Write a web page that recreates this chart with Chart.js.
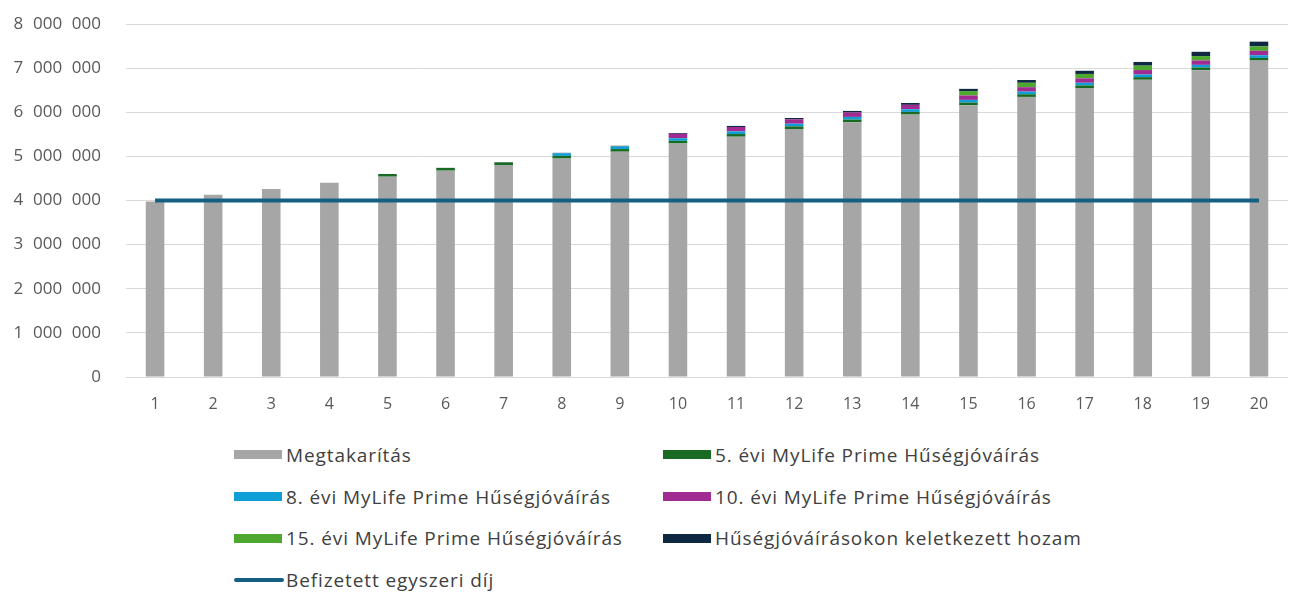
<!DOCTYPE html>
<html>
<head>
<meta charset="utf-8">
<script src="https://cdn.jsdelivr.net/npm/chart.js@4"></script>
<style>
  html, body { margin: 0; padding: 0; background: #fff; }
  #wrap { position: relative; width: 1304px; height: 596px; overflow: hidden; }
  #legend { position: absolute; left: 234px; top: 434px; width: 1000px;
    display: grid; grid-template-columns: 429px 429px; grid-auto-rows: 41.7px;
    font-family: 'Open Sans', 'Liberation Sans', sans-serif; font-size: 19px;
    letter-spacing: 0.9px; color: #404040; }
  .item { display: flex; align-items: center; white-space: nowrap; }
  .swatch { width: 48px; height: 9px; margin-right: 4px; flex: none; }
  .line-swatch { width: 50px; height: 4px; border-radius: 2px; margin-right: 2px; flex: none; }
</style>
</head>
<body>
<div id="wrap">
  <canvas id="chart" width="1304" height="430"></canvas>
  <div id="legend"></div>
</div>
<script>
// ── Data ─────────────────────────────────────
const years = ['1','2','3','4','5','6','7','8','9','10','11','12','13','14','15','16','17','18','19','20'];

const megtakaritas = [3980000, 4130000, 4260000, 4400000, 4540000, 4677000, 4804000, 4951000, 5106000, 5292000,
                      5446000, 5620000, 5774000, 5948000, 6160000, 6348000, 6548000, 6736000, 6954000, 7172000];
const huseg5  = [0, 0, 0, 0, 60000, 60000, 60000, 60000, 60000, 60000, 60000, 60000, 60000, 60000, 60000, 60000, 60000, 60000, 60000, 60000];
const huseg8  = [0, 0, 0, 0, 0, 0, 0, 60000, 60000, 60000, 60000, 60000, 60000, 60000, 60000, 60000, 60000, 60000, 60000, 60000];
const huseg10 = [0, 0, 0, 0, 0, 0, 0, 0, 0, 100000, 100000, 100000, 100000, 100000, 100000, 100000, 100000, 100000, 100000, 100000];
const huseg15 = [0, 0, 0, 0, 0, 0, 0, 0, 0, 0, 0, 0, 0, 0, 100000, 100000, 100000, 100000, 100000, 100000];
const hozam   = [0, 0, 0, 0, 0, 3000, 6000, 9000, 14000, 18000, 24000, 30000, 36000, 42000, 50000, 62000, 72000, 84000, 96000, 108000];
const befizetett = [4000000, 4000000, 4000000, 4000000, 4000000, 4000000, 4000000, 4000000, 4000000, 4000000,
                    4000000, 4000000, 4000000, 4000000, 4000000, 4000000, 4000000, 4000000, 4000000, 4000000];

const yTicks = [0, 1000000, 2000000, 3000000, 4000000, 5000000, 6000000, 7000000, 8000000];

// ── Chart setup ──────────────────────────────
const FONT = "'Open Sans', 'Liberation Sans', sans-serif";
const bar = (label, data, color) => ({
  type: 'bar', label, data, backgroundColor: color, order: 1,
  barPercentage: 0.64, categoryPercentage: 0.5, borderWidth: 0
});

const datasets = [
  bar('Megtakarítás', megtakaritas, '#a6a6a6'),
  bar('5. évi MyLife Prime Hűségjóváírás', huseg5, '#196b24'),
  bar('8. évi MyLife Prime Hűségjóváírás', huseg8, '#0f9ed5'),
  bar('10. évi MyLife Prime Hűségjóváírás', huseg10, '#a02b93'),
  bar('15. évi MyLife Prime Hűségjóváírás', huseg15, '#4ea72e'),
  bar('Hűségjóváírásokon keletkezett hozam', hozam, '#0e2841'),
  {
    type: 'line', label: 'Befizetett egyszeri díj', data: befizetett,
    borderColor: '#156082', backgroundColor: '#156082', borderWidth: 4,
    pointRadius: 0, order: 0, stack: 'line'
  }
];

new Chart(document.getElementById('chart'), {
  data: { labels: years, datasets },
  options: {
    responsive: false,
    animation: false,
    layout: { padding: { top: 24, right: 16, left: 0, bottom: 0 } },
    plugins: { legend: { display: false }, tooltip: { enabled: false } },
    scales: {
      x: {
        stacked: true,
        grid: { display: false, drawTicks: false },
        border: { display: false },
        ticks: { color: '#595959', font: { family: FONT, size: 16 }, padding: 18 },
        afterFit: s => { s.height = 53; }
      },
      y: {
        stacked: true,
        min: 0, max: 8000000,
        afterBuildTicks: s => { s.ticks = yTicks.map(v => ({ value: v })); },
        grid: { color: '#d9d9d9', drawTicks: false },
        border: { display: false },
        ticks: {
          color: '#595959', font: { family: FONT, size: 17 }, padding: 25,
          callback: v => String(v).replace(/\B(?=(\d{3})+(?!\d))/g, '\u2007')
        },
        // keep tick padding from pushing the plot top down
        afterFit: s => { s.width = 126; s.paddingTop = 10; s.paddingBottom = 10; }
      }
    }
  }
});

// ── Legend (two columns, like the original) ──
const legend = document.getElementById('legend');
datasets.forEach(ds => {
  const el = document.createElement('div');
  el.className = 'item';
  const sw = document.createElement('span');
  sw.className = ds.type === 'line' ? 'line-swatch' : 'swatch';
  sw.style.background = ds.type === 'line' ? ds.borderColor : ds.backgroundColor;
  el.appendChild(sw);
  el.appendChild(document.createTextNode(ds.label));
  legend.appendChild(el);
});
</script>
</body>
</html>
